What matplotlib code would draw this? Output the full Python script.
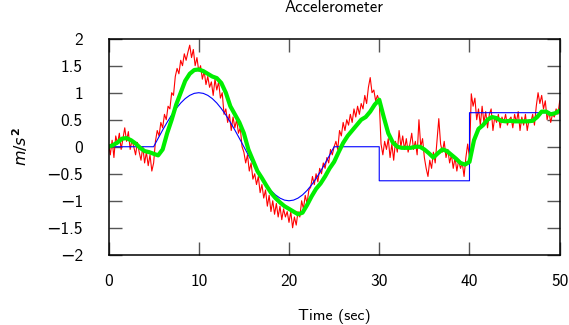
import matplotlib
matplotlib.use("Agg")
import matplotlib.pyplot as plt

plt.rcParams["font.family"] = ["cmss10", "DejaVu Sans"]
plt.rcParams["mathtext.fontset"] = "dejavusans"
plt.rcParams["axes.unicode_minus"] = True

title = "Accelerometer"
x_label = "Time (sec)"
y_label = r"$m/s^{\mathbf{2}}$"

x_ticks = [0, 10, 20, 30, 40, 50]
y_ticks = [-2, -1.5, -1, -0.5, 0, 0.5, 1, 1.5, 2]
y_tick_labels = ["\u22122", "\u22121.5", "\u22121", "\u22120.5", "0", "0.5", "1", "1.5", "2"]

# measured acceleration (red), one value every 0.2 s from 0 to 50 s
meas_t = [i * 0.2 for i in range(251)]
meas = [
    0.05, -0.15, 0.12, -0.2, 0.2, 0.05, 0.25, -0.05, 0.15, 0.35,
    0.1, 0.28, -0.05, 0.12, 0.0, -0.15, 0.08, -0.1, -0.25, 0.0,
    -0.3, -0.1, -0.35, -0.15, -0.45,
    -0.3, 0.1, 0.3, 0.2, 0.45, 0.35, 0.6, 0.5, 0.75, 0.7,
    1.0, 0.95, 1.3, 1.45, 1.35, 1.6, 1.5, 1.72, 1.6, 1.75,
    1.88, 1.65, 1.8, 1.5, 1.65,
    1.4, 1.5, 1.25, 1.4, 1.15, 1.3, 1.1, 1.2, 0.95, 1.25,
    1.05, 1.2, 0.9, 1.0, 0.6, 0.7, 0.45, 0.6, 0.3, 0.55,
    0.35, 0.5, 0.25, 0.35, 0.0,
    -0.1, -0.3, -0.15, -0.45, -0.3, -0.6, -0.5, -0.7, -0.55, -0.85,
    -0.7, -0.95, -0.8, -1.1, -0.9, -1.2, -1.0, -1.25, -1.05, -1.3,
    -1.1, -1.35, -1.15, -1.3, -1.2,
    -1.4, -1.2, -1.5, -1.3, -1.45, -1.2, -1.3, -1.0, -1.15, -0.9,
    -1.05, -0.8, -0.75, -0.55, -0.7, -0.5, -0.65, -0.4, -0.5, -0.3,
    -0.4, -0.2, -0.3, -0.05, -0.15,
    0.0, 0.1, -0.05, 0.3, 0.2, 0.45, 0.3, 0.5, 0.4, 0.6,
    0.45, 0.7, 0.55, 0.75, 0.6, 0.8, 0.7, 0.95, 0.8, 1.1,
    1.28, 1.0, 1.05, 0.85, 0.95,
    0.85, 0.05, -0.15, 0.1, -0.05, 0.15, -0.2, 0.05, -0.25, 0.1,
    -0.1, 0.3, 0.0, 0.2, -0.05, 0.15, -0.1, 0.05, 0.25, -0.05,
    0.1, -0.15, 0.5, 0.0, 0.15,
    -0.2, -0.4, -0.55, -0.25, -0.4, -0.1, -0.3, 0.1, 0.52, 0.05,
    -0.1, 0.1, -0.2, -0.05, -0.3, -0.15, -0.4, -0.2, -0.45, -0.25,
    -0.4, -0.3, -0.55, -0.2, 0.05,
    -0.2, 0.98, 0.75, 0.9, 0.5, 0.7, 0.4, 0.75, 0.45, 0.65,
    0.35, 0.6, 0.7, 0.3, 0.55, 0.45, 0.6, 0.35, 0.55, 0.45,
    0.6, 0.4, 0.5, 0.55, 0.35,
    0.6, 0.45, 0.65, 0.3, 0.55, 0.4, 0.6, 0.3, 0.5, 0.45,
    0.6, 0.4, 0.75, 1.0, 0.8, 0.95, 0.7, 0.85, 0.5, 0.65,
    0.45, 0.6, 0.55, 0.7, 0.6, 0.85,
]

# true acceleration (blue)
true_t = [0, 5, 5.5, 6, 6.5, 7, 7.5, 8, 8.5, 9, 9.5, 10, 10.5, 11, 11.5, 12,
          12.5, 13, 13.5, 14, 14.5, 15, 15.5, 16, 16.5, 17, 17.5, 18, 18.5,
          19, 19.5, 20, 20.5, 21, 21.5, 22, 22.5, 23, 23.5, 24, 24.5, 25,
          30, 30, 40, 40, 50]
true_acc = [0, 0, 0.156, 0.309, 0.454, 0.588, 0.707, 0.809, 0.891, 0.951,
            0.988, 1.0, 0.988, 0.951, 0.891, 0.809, 0.707, 0.588, 0.454,
            0.309, 0.156, 0, -0.156, -0.309, -0.454, -0.588, -0.707, -0.809,
            -0.891, -0.951, -0.988, -1.0, -0.988, -0.951, -0.891, -0.809,
            -0.707, -0.588, -0.454, -0.309, -0.156, 0,
            0, -0.63, -0.63, 0.63, 0.63]

# filtered estimate (green), one value every 0.5 s
est_t = [i * 0.5 for i in range(101)]
est = [
    0.0, 0.03, 0.08, 0.15, 0.16, 0.12, 0.06, -0.02, -0.08, -0.1,
    -0.13, -0.16, -0.05, 0.25, 0.5, 0.78, 1.0, 1.22, 1.35, 1.42,
    1.43, 1.4, 1.35, 1.3, 1.27, 1.18, 1.0, 0.75, 0.6, 0.45,
    0.25, -0.05, -0.25, -0.45, -0.58, -0.72, -0.85, -0.95, -1.03, -1.1,
    -1.15, -1.2, -1.25, -1.22, -1.08, -0.92, -0.78, -0.68, -0.55, -0.4,
    -0.28, -0.1, 0.07, 0.2, 0.3, 0.4, 0.5, 0.55, 0.65, 0.78,
    0.87, 0.55, 0.25, 0.08, 0.0, -0.02, -0.02, -0.02, 0.0, 0.0,
    -0.05, -0.12, -0.2, -0.12, -0.05, -0.08, -0.15, -0.22, -0.3, -0.33,
    -0.28, 0.12, 0.33, 0.4, 0.5, 0.55, 0.53, 0.48, 0.47, 0.48,
    0.47, 0.47, 0.47, 0.47, 0.48, 0.55, 0.65, 0.65, 0.6, 0.62,
    0.67,
]

fig = plt.figure(figsize=(5.69, 3.25), dpi=100)
ax = fig.add_axes([0.1907, 0.216, 0.793, 0.665])

ax.plot(meas_t, meas, color="#ff0000", lw=0.8)
ax.plot(true_t, true_acc, color="#0000ff", lw=0.8)
ax.plot(est_t, est, color="#00ee00", lw=3.0, solid_capstyle="round")

ax.set_xlim(0, 50)
ax.set_ylim(-2, 2)
ax.set_xticks(x_ticks)
ax.set_yticks(y_ticks)
ax.set_yticklabels(y_tick_labels)
ax.tick_params(direction="in", length=9.5, width=1.0, color="#555555",
               top=True, right=True, labelsize=12.5)
ax.tick_params(axis="x", pad=14)
ax.tick_params(axis="y", pad=18.5)
for s in ax.spines.values():
    s.set_linewidth(1.1)

ax.set_title(title, fontsize=12, pad=19)
ax.set_xlabel(x_label, fontsize=11.5, labelpad=14)
ax.set_ylabel(y_label, fontsize=11.5, labelpad=12)

fig.savefig("out.png", dpi=100)
